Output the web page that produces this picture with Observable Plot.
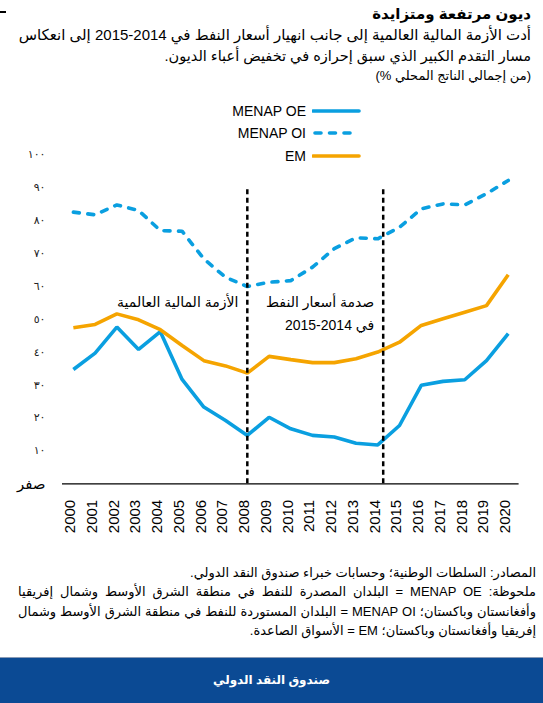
<!DOCTYPE html>
<html lang="ar">
<head>
<meta charset="utf-8">
<script src="https://cdn.jsdelivr.net/npm/d3@7"></script>
<script src="https://cdn.jsdelivr.net/npm/@observablehq/plot@0.6"></script>
<style>
  body { margin: 0; background: #fff; font-family: "Liberation Sans", "DejaVu Sans", sans-serif; color: #000; }
  #page { position: relative; width: 543px; height: 703px; overflow: hidden; background: #fff; }
  .line { position: absolute; right: 12px; white-space: nowrap; line-height: 20px; text-align: right; }
  .rtl { direction: rtl; }
  #unit { display: flex; flex-direction: row; direction: ltr; }
  #unit span { white-space: pre; }
  #chart { position: absolute; left: 0; top: 95px; }
  #legend { position: absolute; left: 0; top: 0; width: 543px; height: 170px; pointer-events: none; }
  .lg { position: absolute; right: 237px; line-height: 20px; font-size: 14px; white-space: nowrap; }
  #notes .line { font-size: 13px; right: 7px; }
  #footer { position: absolute; left: 0; top: 657px; width: 543px; height: 46px; background: #0b4a94;
            border-top: 1px solid #8a9bb5; color: #fff; font-weight: bold; font-size: 12px;
            text-align: center; line-height: 44px; direction: rtl; }
  #corner { position: absolute; left: 0; top: 11px; width: 6px; height: 2px; background: #000; }
</style>
</head>
<body>
<div id="page">
  <div id="corner"></div>
  <div class="line rtl" style="top:4px;font-size:15px;font-weight:bold;">ديون مرتفعة ومتزايدة</div>
  <div class="line rtl" style="top:25px;font-size:15px;">أدت الأزمة المالية العالمية إلى جانب انهيار أسعار النفط في 2014-2015 إلى انعكاس</div>
  <div class="line rtl" style="top:46px;font-size:14.5px;">مسار التقدم الكبير الذي سبق إحرازه في تخفيض أعباء الديون.</div>
  <div class="line" id="unit" style="top:66px;font-size:13px;"><span>(% </span><span dir="rtl">من إجمالي الناتج المحلي</span><span>)</span></div>

  <div id="chart"></div>
  <div id="legend"></div>

  <div id="notes">
    <div class="line rtl" style="top:563px;">المصادر: السلطات الوطنية؛ وحسابات خبراء صندوق النقد الدولي.</div>
    <div class="line rtl" style="top:582px;left:18px;text-align-last:justify;">ملحوظة: MENAP OE = البلدان المصدرة للنفط في منطقة الشرق الأوسط وشمال إفريقيا</div>
    <div class="line rtl" style="top:602px;left:18px;text-align-last:justify;">وأفغانستان وباكستان؛ MENAP OI = البلدان المستوردة للنفط في منطقة الشرق الأوسط وشمال</div>
    <div class="line rtl" style="top:621px;">إفريقيا وأفغانستان وباكستان؛ EM = الأسواق الصاعدة.</div>
  </div>

  <div id="footer">صندوق النقد الدولي</div>
</div>

<script>
// ---- data ----
const years = [2000, 2001, 2002, 2003, 2004, 2005, 2006, 2007, 2008, 2009, 2010,
               2011, 2012, 2013, 2014, 2015, 2016, 2017, 2018, 2019, 2020];
const menapOE = [34.7, 39.7, 47.6, 40.8, 46.2, 31.7, 23.3, 19.2, 14.7, 20.2, 16.7,
                 14.7, 14.2, 12.3, 11.8, 17.7, 29.9, 31.1, 31.6, 37.4, 45.6];
const menapOI = [82.5, 81.7, 84.7, 83.0, 76.9, 76.7, 68.3, 62.7, 59.9, 61.2, 61.7,
                 65.8, 71.4, 74.7, 74.4, 77.9, 83.5, 85.0, 84.7, 88.1, 92.1];
const em      = [47.4, 48.4, 51.6, 49.8, 46.8, 42.0, 37.4, 35.8, 33.6, 38.7, 37.7,
                 36.8, 36.8, 38.0, 40.0, 43.0, 48.1, 50.1, 52.1, 54.1, 63.5];
const seriesNames = ["MENAP OE", "MENAP OI", "EM"];
const yTicks = [0, 10, 20, 30, 40, 50, 60, 70, 80, 90, 100];
const yTickLabels = ["صفر", "١٠", "٢٠", "٣٠", "٤٠", "٥٠", "٦٠", "٧٠", "٨٠", "٩٠", "١٠٠"];
const eventYears = [2008, 2014.25];
const eventTop = 90;
const annotations = [
  {x: 2008, y: 55.1, text: "الأزمة المالية العالمية"},
  {x: 2014.25, y: 55.1, text: "صدمة أسعار النفط"},
  {x: 2014.25, y: 48.1, text: "\u202Bفي 2014-2015\u202C"}
];

// ---- styles ----
const blue = "#0a9fe0";
const orange = "#f5a400";
const styles = {
  "MENAP OE": {stroke: blue, dash: null},
  "MENAP OI": {stroke: blue, dash: "6,8.5"},
  "EM": {stroke: orange, dash: null}
};

const table = (vals) => years.map((year, i) => ({year, value: vals[i]}));
const seriesData = [menapOE, menapOI, em];
const labelOf = (d) => yTickLabels[yTicks.indexOf(d)];

const chart = Plot.plot({
  width: 543,
  height: 455,
  marginTop: 59,
  marginBottom: 66.7,
  marginLeft: 62,
  marginRight: 24.4,
  style: {fontFamily: "'Liberation Sans', 'DejaVu Sans', sans-serif", color: "#000", background: "transparent"},
  x: {domain: [1999.5, 2020.5], axis: null},
  y: {domain: [0, 100], axis: null},
  marks: [
    Plot.axisY({ticks: yTicks.filter(d => d > 0), tickFormat: labelOf, tickSize: 0, tickPadding: 17, fontSize: 11, fill: "#222"}),
    Plot.axisY({ticks: [0], tickFormat: labelOf, tickSize: 0, tickPadding: 17, fontSize: 15, fill: "#000"}),
    Plot.axisX({ticks: years, tickFormat: d => String(d), tickRotate: -90, tickSize: 0, tickPadding: 16, fontSize: 15, dx: -3, fill: "#000"}),
    Plot.ruleY([0], {stroke: "#000", strokeWidth: 1.3}),
    ...seriesNames.map((name, k) => Plot.lineY(table(seriesData[k]), {
      x: "year", y: "value",
      stroke: styles[name].stroke, strokeWidth: 3.6,
      strokeDasharray: styles[name].dash,
      strokeLinecap: styles[name].dash ? "round" : "butt",
      strokeLinejoin: "miter"
    })),
    Plot.ruleX(eventYears, {y1: 0, y2: eventTop, stroke: "#000", strokeWidth: 2.5, strokeDasharray: "5,3.5"}),
    Plot.text(annotations, {x: "x", y: "y", text: "text", textAnchor: "end", dx: -9, fontSize: 14, fill: "#000"})
  ]
});
document.getElementById("chart").appendChild(chart);

// ---- legend (HTML overlaid at the top of the plot) ----
const legend = document.getElementById("legend");
const rowCenters = [111, 133, 156];
seriesNames.forEach((name, k) => {
  const t = document.createElement("div");
  t.className = "lg";
  t.style.top = (rowCenters[k] - 10) + "px";
  t.textContent = name;
  legend.appendChild(t);
  const ns = "http://www.w3.org/2000/svg";
  const svg = document.createElementNS(ns, "svg");
  svg.setAttribute("width", 50);
  svg.setAttribute("height", 10);
  svg.style.position = "absolute";
  svg.style.left = "312px";
  svg.style.top = (rowCenters[k] - 5) + "px";
  const ln = document.createElementNS(ns, "line");
  ln.setAttribute("x1", styles[name].dash ? 3 : 1);
  ln.setAttribute("x2", styles[name].dash ? 42 : 47);
  ln.setAttribute("y1", 5);
  ln.setAttribute("y2", 5);
  ln.setAttribute("stroke", styles[name].stroke);
  ln.setAttribute("stroke-width", 3.6);
  ln.setAttribute("stroke-linecap", "round");
  if (styles[name].dash) ln.setAttribute("stroke-dasharray", "6,8.5");
  svg.appendChild(ln);
  legend.appendChild(svg);
});
</script>
</body>
</html>
